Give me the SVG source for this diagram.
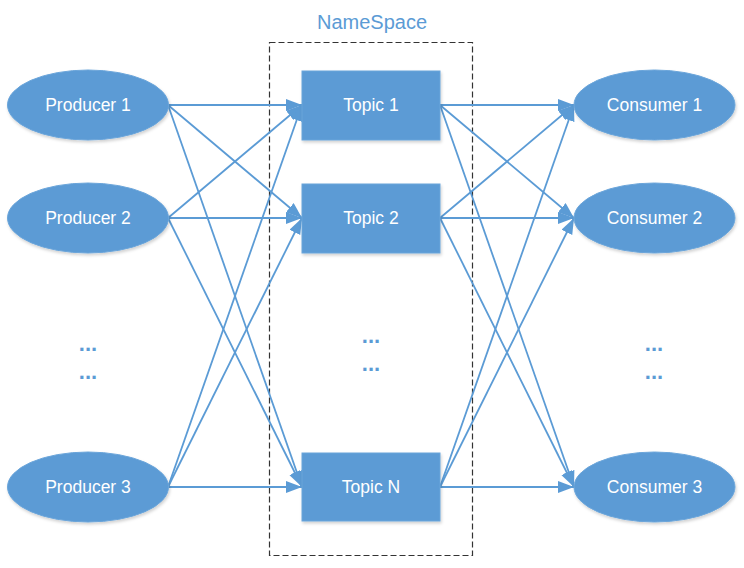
<svg xmlns="http://www.w3.org/2000/svg" width="744" height="568" viewBox="0 0 744 568">
<style>
.node{fill:#5B9BD5;stroke:#6BA5DA;stroke-width:1;filter:url(#sh)}
.lbl{font-family:"Liberation Sans",Arial,sans-serif;font-size:17.5px;fill:#FFFFFF;text-anchor:middle}
.dots{font-family:"Liberation Sans",Arial,sans-serif;font-size:22px;font-weight:bold;fill:#5B9BD5;text-anchor:middle}
.edge{stroke:#5B9BD5;stroke-width:1.8;fill:none;marker-end:url(#ah)}
</style>
<defs>
<marker id="ah" markerUnits="userSpaceOnUse" markerWidth="18" markerHeight="14" refX="16" refY="6" orient="auto">
<path d="M0,0 L16,6 L0,12 z" fill="#5B9BD5"/>
</marker>
<filter id="sh" x="-10%" y="-10%" width="125%" height="130%">
<feDropShadow dx="1" dy="2" stdDeviation="1.5" flood-color="#000000" flood-opacity="0.18"/>
</filter>
</defs>
<rect x="269.5" y="42.5" width="203" height="513" fill="none" stroke="#333333" stroke-width="1.2" stroke-dasharray="6,3"/>
<text x="372" y="29" font-family="'Liberation Sans',Arial,sans-serif" font-size="20" fill="#5B9BD5" text-anchor="middle">NameSpace</text>
<g id="connectors">
<line class="edge" x1="168" y1="105" x2="302" y2="105"/>
<line class="edge" x1="168" y1="105" x2="302" y2="218"/>
<line class="edge" x1="168" y1="105" x2="302" y2="487"/>
<line class="edge" x1="168" y1="218" x2="302" y2="105"/>
<line class="edge" x1="168" y1="218" x2="302" y2="218"/>
<line class="edge" x1="168" y1="218" x2="302" y2="487"/>
<line class="edge" x1="168" y1="487" x2="302" y2="105"/>
<line class="edge" x1="168" y1="487" x2="302" y2="218"/>
<line class="edge" x1="168" y1="487" x2="302" y2="487"/>
<line class="edge" x1="440" y1="105" x2="574" y2="105"/>
<line class="edge" x1="440" y1="105" x2="574" y2="218"/>
<line class="edge" x1="440" y1="105" x2="574" y2="487"/>
<line class="edge" x1="440" y1="218" x2="574" y2="105"/>
<line class="edge" x1="440" y1="218" x2="574" y2="218"/>
<line class="edge" x1="440" y1="218" x2="574" y2="487"/>
<line class="edge" x1="440" y1="487" x2="574" y2="105"/>
<line class="edge" x1="440" y1="487" x2="574" y2="218"/>
<line class="edge" x1="440" y1="487" x2="574" y2="487"/>
</g>
<g id="producer1"><ellipse class="node" cx="88" cy="105" rx="80.5" ry="35"/><text class="lbl" x="88" y="111">Producer 1</text></g>
<g id="producer2"><ellipse class="node" cx="88" cy="218" rx="80.5" ry="35"/><text class="lbl" x="88" y="224">Producer 2</text></g>
<g id="producer3"><ellipse class="node" cx="88" cy="487" rx="80.5" ry="35"/><text class="lbl" x="88" y="493">Producer 3</text></g>
<g id="topic1"><rect class="node" x="302" y="71" width="138" height="69"/><text class="lbl" x="371" y="111">Topic 1</text></g>
<g id="topic2"><rect class="node" x="302" y="184" width="138" height="69"/><text class="lbl" x="371" y="224">Topic 2</text></g>
<g id="topicN"><rect class="node" x="302" y="453" width="138" height="68"/><text class="lbl" x="371" y="493">Topic N</text></g>
<g id="consumer1"><ellipse class="node" cx="654.5" cy="105" rx="80.5" ry="35"/><text class="lbl" x="654.5" y="111">Consumer 1</text></g>
<g id="consumer2"><ellipse class="node" cx="654.5" cy="218" rx="80.5" ry="35"/><text class="lbl" x="654.5" y="224">Consumer 2</text></g>
<g id="consumer3"><ellipse class="node" cx="654.5" cy="487" rx="80.5" ry="35"/><text class="lbl" x="654.5" y="493">Consumer 3</text></g>
<g id="ellipsis">
<text class="dots" x="88" y="351">...</text>
<text class="dots" x="88" y="379">...</text>
<text class="dots" x="371" y="343">...</text>
<text class="dots" x="371" y="371">...</text>
<text class="dots" x="654" y="351">...</text>
<text class="dots" x="654" y="379">...</text>
</g>
</svg>
